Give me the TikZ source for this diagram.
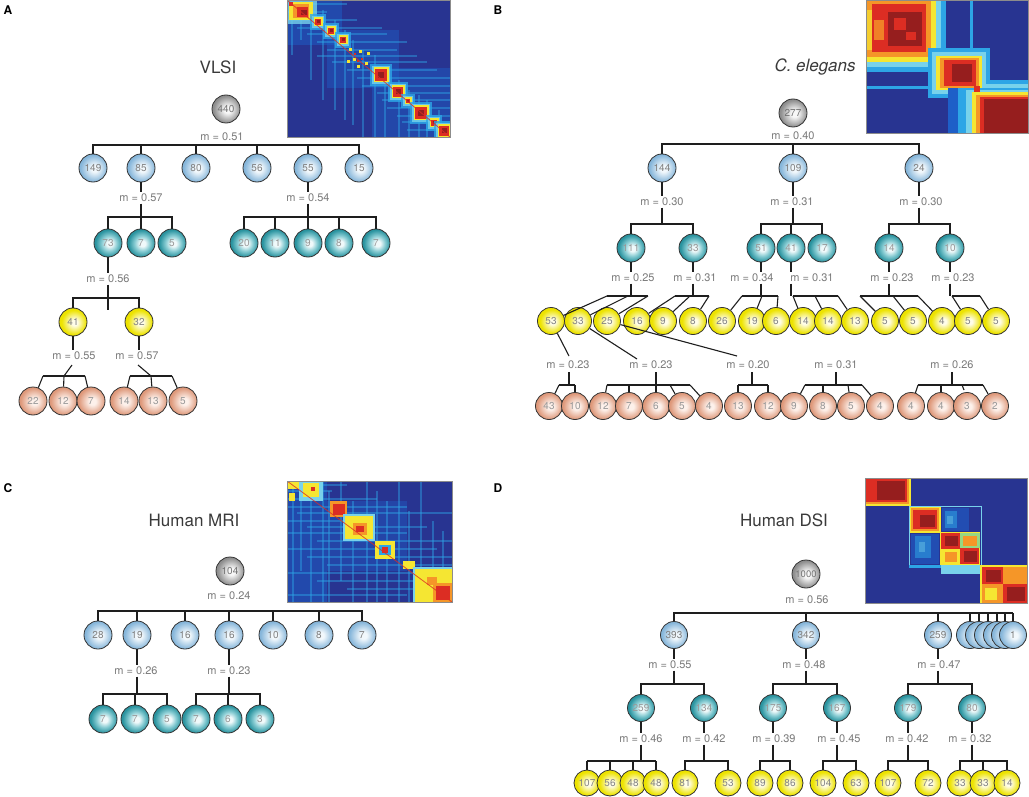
\documentclass[tikz,border=0pt]{standalone}
\usepackage{fontspec}
\setmainfont{TeX Gyre Heros}
\definecolor{edgec}{HTML}{333333}
\definecolor{lnc}{HTML}{1E1E1E}
\definecolor{mlc}{HTML}{7A7A7A}
\definecolor{ttlc}{HTML}{3A3A3A}
\definecolor{grO}{HTML}{8E8E8E}\definecolor{grI}{HTML}{F8F8F8}
\definecolor{lbO}{HTML}{86B6DA}\definecolor{lbI}{HTML}{F2F8FC}
\definecolor{tlO}{HTML}{2A939F}\definecolor{tlM}{HTML}{86CBD2}\definecolor{tlI}{HTML}{F0F9FA}
\definecolor{ylO}{HTML}{EDE300}\definecolor{ylI}{HTML}{FFFDEA}
\definecolor{smO}{HTML}{DE987A}\definecolor{smI}{HTML}{FDF1EB}
\definecolor{jN}{RGB}{40,52,145}
\definecolor{jB}{RGB}{30,95,200}
\definecolor{jC}{RGB}{45,165,230}
\definecolor{jL}{RGB}{120,210,235}
\definecolor{jY}{RGB}{245,230,50}
\definecolor{jO}{RGB}{245,150,40}
\definecolor{jR}{RGB}{220,45,35}
\definecolor{jD}{RGB}{150,30,30}
\definecolor{jG}{RGB}{150,215,130}
\pgfdeclareradialshading{shGr}{\pgfpoint{3bp}{-1bp}}{color(0bp)=(grI); color(6bp)=(grI); color(24bp)=(grO); color(50bp)=(grO)}
\pgfdeclareradialshading{shLb}{\pgfpoint{3bp}{-1bp}}{color(0bp)=(lbI); color(6bp)=(lbI); color(24bp)=(lbO); color(50bp)=(lbO)}
\pgfdeclareradialshading{shTl}{\pgfpoint{3bp}{-1bp}}{color(0bp)=(tlI); color(5bp)=(tlI); color(14bp)=(tlM); color(24bp)=(tlO); color(50bp)=(tlO)}
\pgfdeclareradialshading{shYl}{\pgfpoint{3bp}{-1bp}}{color(0bp)=(ylI); color(5bp)=(ylI); color(22bp)=(ylO); color(50bp)=(ylO)}
\pgfdeclareradialshading{shSm}{\pgfpoint{3bp}{-1bp}}{color(0bp)=(smI); color(6bp)=(smI); color(24bp)=(smO); color(50bp)=(smO)}
\tikzset{
  cnode/.style={circle, draw=edgec, line width=0.8pt, minimum size=28pt, inner sep=0pt,
    font=\fontsize{10}{10}\selectfont},
  gr/.style={cnode, shading=shGr, text=black!55},
  lb/.style={cnode, shading=shLb, text=black!50},
  tl/.style={cnode, shading=shTl, text=black!40},
  yl/.style={cnode, shading=shYl, text=black!48},
  sm/.style={cnode, shading=shSm, text=black!40},
  sz27/.style={minimum size=27pt},
  sz26/.style={minimum size=26pt},
  ml/.style={font=\fontsize{11}{11}\selectfont, text=mlc, inner sep=1.5pt},
  ttl/.style={font=\fontsize{17}{17}\selectfont, text=ttlc},
  plab/.style={font=\bfseries\fontsize{12}{12}\selectfont, text=black},
  ln/.style={draw=lnc, line width=1.1pt},
  hmb/.style={draw=black!45, line width=0.6pt}
}
\newcommand\tbarr[3]{\draw[ln] (#2.north) -- (#2.north |- #1) -- (#3.north |- #1) -- (#3.north);}
\newcommand\tdropp[2]{\draw[ln] (#2.north |- #1) -- (#2.north);}
\newcommand\jb[3]{%
  \fill[jC,opacity=.8] ({#1-#3-5},{#2-#3-5}) rectangle ({#1+#3+5},{#2+#3+5});
  \fill[jL,opacity=.8] ({#1-#3-3},{#2-#3-3}) rectangle ({#1+#3+3},{#2+#3+3});
  \fill[jY] ({#1-#3-1.5},{#2-#3-1.5}) rectangle ({#1+#3+1.5},{#2+#3+1.5});
  \fill[jR] ({#1-#3},{#2-#3}) rectangle ({#1+#3},{#2+#3});
  \fill[jD] ({#1-#3/2},{#2-#3/2}) rectangle ({#1+#3/2},{#2+#3/2});}
\newcommand\hs[3]{\fill[jC,opacity=.45] (#2,{#1-1}) rectangle (#3,{#1+1});}
\newcommand\vs[3]{\fill[jC,opacity=.45] ({#1-1},#2) rectangle ({#1+1},#3);}
\begin{document}
\begin{tikzpicture}[x=1pt,y=-1pt]
\useasboundingbox (0,0) rectangle (1029,797);

% ================= heatmap A =================
\begin{scope}[shift={(287,0)}]
\begin{scope}
\clip (0,0) rectangle (163,137);
\fill[jN] (0,0) rectangle (163,137);
\fill[jB,opacity=.5] (0,0) rectangle (55,45);
\fill[jB,opacity=.45] (40,30) rectangle (112,88);
\fill[jB,opacity=.45] (85,68) rectangle (163,137);
\foreach \p/\a/\b in {4/0/60,12/0/40,20/0/70,28/10/95,34/20/100,42/30/120,50/40/110,56/30/130,62/45/140,70/60/150,78/70/163,86/75/163,93/90/163,100/95/163,108/100/163,116/110/163,122/115/163,130/120/163}{\hs{\p}{\a}{\b}}
\foreach \p/\a/\b in {5/0/55,14/0/40,24/0/80,36/10/100,48/20/110,58/30/120,66/40/125,76/50/137,88/55/137,98/70/137,112/80/137,122/90/137,132/95/137,140/100/137,152/110/137}{\vs{\p}{\a}{\b}}
\fill[jL,opacity=.8] (0,0) rectangle (30,24);
\fill[jY] (2,2) rectangle (26,20);
\fill[jO] (6,4) rectangle (22,18);
\fill[jR] (10,7) rectangle (21,17);
\fill[jD] (14,10) rectangle (20,15);
\fill[jR] (2,2) rectangle (6,6);
\jb{31}{22}{3}
\jb{44}{31}{3}
\jb{56}{40}{3}
\foreach \x/\y in {62/48,72/50,66/58,78/62,70/65,60/60,80/52}{\fill[jY] (\x,\y) rectangle ++(3,3);}
\foreach \x/\y in {67/53,74/58,70/60}{\fill[jR] (\x,\y) rectangle ++(2,2);}
\jb{94}{75}{6}
\jb{111}{92}{5}
\jb{121}{101}{2}
\jb{134}{113}{6}
\jb{147}{123}{3}
\jb{157}{131}{5}
\draw[jR,opacity=.8,line width=0.8pt] (0,0) -- (163,137);
\end{scope}
\draw[hmb] (0,0) rectangle (163,137);
\end{scope}

% ================= heatmap B =================
\begin{scope}[shift={(866,0)}]
\begin{scope}
\clip (0,0) rectangle (162,133);
\fill[jN] (0,0) rectangle (162,133);
\fill[jC] (0,0) rectangle (80,72);
\fill[jL] (0,0) rectangle (75,67);
\fill[jY] (0,0) rectangle (70,62);
\fill[jO] (0,0) rectangle (65,57);
\fill[jR] (6,4) rectangle (60,52);
\fill[jD] (22,12) rectangle (56,46);
\fill[jR] (28,18) rectangle (40,30);
\fill[jR] (40,32) rectangle (50,40);
\fill[jY,opacity=.7] (0,10) rectangle (6,50);
\fill[jO,opacity=.8] (8,20) rectangle (18,40);
\fill[jC] (104,0) rectangle (107,133);
\fill[jC] (0,86) rectangle (84,89);
\fill[jC,opacity=.7] (76,0) rectangle (79,64);
\fill[jC] (62,48) rectangle (124,98);
\fill[jL] (66,52) rectangle (120,94);
\fill[jY] (70,56) rectangle (116,90);
\fill[jO] (74,58) rectangle (113,88);
\fill[jR] (78,60) rectangle (110,86);
\fill[jD] (86,64) rectangle (106,82);
\fill[jB] (82,88) rectangle (162,133);
\fill[jC] (92,88) rectangle (162,133);
\fill[jL] (100,90) rectangle (162,133);
\fill[jY] (106,92) rectangle (162,133);
\fill[jO] (110,95) rectangle (162,133);
\fill[jR] (114,97) rectangle (162,133);
\fill[jD] (118,99) rectangle (162,133);
\fill[jL] (120,84) rectangle (162,88);
\fill[jC] (122,80) rectangle (162,84);
\fill[jR] (108,86) rectangle (114,92);
\end{scope}
\draw[hmb] (0,0) rectangle (162,133);
\end{scope}

% ================= heatmap C =================
\begin{scope}[shift={(287,481)}]
\begin{scope}
\clip (0,0) rectangle (165,121);
\fill[jN] (0,0) rectangle (165,121);
\fill[jB,opacity=.5] (0,0) rectangle (40,121);
\fill[jB,opacity=.4] (40,20) rectangle (120,90);
\foreach \p/\a/\b in {4/0/60,10/0/45,18/0/90,26/0/120,32/10/165,40/0/80,46/20/140,52/0/120,60/30/165,68/0/150,76/20/165,84/40/165,92/0/165,100/30/165,108/60/165,114/0/120}{\hs{\p}{\a}{\b}}
\foreach \p/\a/\b in {6/0/121,14/0/90,24/0/121,36/0/121,42/10/121,54/0/100,66/20/121,80/0/121,90/10/121,100/20/121,112/0/121,122/30/121,134/0/121,146/40/121,156/50/121}{\vs{\p}{\a}{\b}}
\fill[jY] (0,0) rectangle (12,8);
\fill[jL] (12,0) rectangle (36,20);
\fill[jY] (16,2) rectangle (32,16);
\fill[jR] (24,6) rectangle (28,10);
\fill[jY] (2,12) rectangle (8,20);
\fill[jO] (43,20) rectangle (60,36);
\fill[jR] (46,23) rectangle (58,34);
\fill[jL] (56,33) rectangle (88,60);
\fill[jY] (58,35) rectangle (86,58);
\fill[jO] (66,42) rectangle (80,54);
\fill[jR] (69,45) rectangle (77,51);
\fill[jY] (88,60) rectangle (108,78);
\fill[jC] (92,64) rectangle (104,74);
\fill[jR] (95,66) rectangle (101,72);
\fill[jY] (116,80) rectangle (128,88);
\fill[jL] (126,86) rectangle (165,121);
\fill[jY] (128,88) rectangle (165,121);
\fill[jO] (140,96) rectangle (150,104);
\fill[jO] (146,102) rectangle (165,121);
\fill[jR] (149,105) rectangle (163,119);
\draw[jR,opacity=.8,line width=0.8pt] (0,0) -- (165,121);
\end{scope}
\draw[hmb] (0,0) rectangle (165,121);
\end{scope}

% ================= heatmap D =================
\begin{scope}[shift={(865,478)}]
\begin{scope}
\clip (0,0) rectangle (162,125);
\fill[jN] (0,0) rectangle (162,125);
\fill[jY] (0,0) rectangle (46,28);
\fill[jO] (0,0) rectangle (44,26);
\fill[jR] (0,0) rectangle (42,24);
\fill[jD] (12,3) rectangle (40,22);
\fill[jB,opacity=.6] (77,30) rectangle (104,53);
\fill[jC,opacity=.55] (80,33) rectangle (92,50);
\fill[jL,opacity=.4] (82,38) rectangle (88,46);
\fill[jB,opacity=.6] (46,56) rectangle (74,86);
\fill[jC,opacity=.55] (50,58) rectangle (66,80);
\fill[jL,opacity=.4] (54,64) rectangle (60,74);
\draw[jL,line width=1pt] (44,28) rectangle (116,87);
\fill[jY] (45,29) rectangle (76,55);
\fill[jO] (46,30) rectangle (74,53);
\fill[jR] (48,32) rectangle (72,51);
\fill[jD] (55,37) rectangle (70,49);
\fill[jY] (75,54) rectangle (115,87);
\fill[jR] (76,55) rectangle (95,71);
\fill[jD] (80,58) rectangle (93,68);
\fill[jG] (95,55) rectangle (115,70);
\fill[jO] (98,58) rectangle (112,68);
\fill[jY] (76,71) rectangle (95,86);
\fill[jO] (80,74) rectangle (92,84);
\fill[jR] (95,70) rectangle (114,86);
\fill[jD] (99,73) rectangle (112,84);
\fill[jL] (76,87) rectangle (115,96);
\fill[jC] (44,87) rectangle (76,90);
\fill[jY] (115,87) rectangle (162,125);
\fill[jR] (117,89) rectangle (138,106);
\fill[jD] (121,92) rectangle (136,104);
\fill[jO] (138,89) rectangle (162,106);
\fill[jO] (117,106) rectangle (138,125);
\fill[jY] (120,110) rectangle (132,122);
\fill[jR] (138,106) rectangle (162,125);
\fill[jD] (142,109) rectangle (160,123);
\end{scope}
\draw[hmb] (0,0) rectangle (162,125);
\end{scope}

% ================= Panel A =================
\node[plab] (pA) at (8,10) {A};
\node[ttl] (tA) at (218,67) {VLSI};
\node[gr] (a440) at (226,109) {440};
\node[ml] (aL0) at (222,137) {m = 0.51};
\coordinate (aB0) at (0,145);
\node[lb] (a149) at (93,168) {149};
\node[lb] (a85) at (141,168) {85};
\node[lb] (a80) at (196,168) {80};
\node[lb] (a56) at (257,168) {56};
\node[lb] (a55) at (308,168) {55};
\node[lb] (a15) at (359,168) {15};
\tbarr{aB0}{a149}{a15}
\foreach \n in {a85,a80,a56,a55}{\tdropp{aB0}{\n}}

\node[ml] (aL1) at (141,198) {m = 0.57};
\draw[ln] (a85.south) -- (a85.south |- aL1.north);
\coordinate (aB1) at (0,217);
\draw[ln] (aL1.south -| a85) -- (a85 |- aB1);
\node[tl] (a73) at (108,243) {73};
\node[tl] (a7) at (141,243) {7};
\node[tl] (a5) at (172,243) {5};
\tbarr{aB1}{a73}{a5}
\tdropp{aB1}{a7}

\node[ml] (aL2) at (308,198) {m = 0.54};
\draw[ln] (a55.south) -- (a55.south |- aL2.north);
\draw[ln] (aL2.south -| a55) -- (a55 |- aB1);
\node[tl] (a20) at (244,243) {20};
\node[tl] (a11) at (275,243) {11};
\node[tl] (a9) at (308,243) {9};
\node[tl] (a8) at (339,243) {8};
\node[tl] (a7b) at (376,243) {7};
\tbarr{aB1}{a20}{a7b}
\foreach \n in {a11,a9,a8}{\tdropp{aB1}{\n}}

\node[ml] (aL3) at (108,279) {m = 0.56};
\draw[ln] (a73.south) -- (a73.south |- aL3.north);
\coordinate (aB3) at (0,298);
\coordinate (aT3) at (108,310);
\draw[ln] (aL3.south -| aT3) -- (aT3);
\node[yl] (a41) at (73,322) {41};
\node[yl] (a32) at (139,322) {32};
\tbarr{aB3}{a41}{a32}

\node[ml] (aL4) at (74,356) {m = 0.55};
\node[ml] (aL5) at (137,356) {m = 0.57};
\draw[ln] (a41.south) -- (a41.south |- aL4.north);
\draw[ln] (a32.south) -- (a32.south |- aL5.north);
\node[sm] (a22) at (33,401) {22};
\node[sm] (a12) at (63,401) {12};
\node[sm] (a7c) at (91,401) {7};
\node[sm] (a14) at (124,401) {14};
\node[sm] (a13) at (153,401) {13};
\node[sm] (a5c) at (183,401) {5};
\coordinate (aJ4) at (64,376); \coordinate (aJ4l) at (43,376); \coordinate (aJ4r) at (85,376);
\coordinate (aS4) at (72,365);
\draw[ln] (aS4) -- (aJ4);
\draw[ln] (aJ4l) -- (aJ4r);
\draw[ln] (aJ4l) -- (a22); \draw[ln] (aJ4) -- (a12); \draw[ln] (aJ4r) -- (a7c);
\coordinate (aJ5) at (151,376); \coordinate (aJ5l) at (130,376); \coordinate (aJ5r) at (172,376);
\coordinate (aS5) at (138,365);
\draw[ln] (aS5) -- (aJ5);
\draw[ln] (aJ5l) -- (aJ5r);
\draw[ln] (aJ5l) -- (a14); \draw[ln] (aJ5) -- (a13); \draw[ln] (aJ5r) -- (a5c);

% ================= Panel B =================
\node[plab] (pB) at (498,10) {B};
\node[ttl] (tB) at (815,67) {\itshape C. elegans};
\node[gr] (b277) at (793,113) {277};
\node[ml] (bL0) at (793,136) {m = 0.40};
\coordinate (bB0) at (0,144);
\node[lb] (b144) at (662,168) {144};
\node[lb] (b109) at (793,168) {109};
\node[lb] (b24) at (919,168) {24};
\tbarr{bB0}{b144}{b24}
\tdropp{bB0}{b109}
\node[ml] (bL1) at (662,202) {m = 0.30};
\node[ml] (bL2) at (792,202) {m = 0.31};
\node[ml] (bL3) at (921,202) {m = 0.30};
\coordinate (bB1) at (0,224);
\foreach \n/\l in {b144/bL1,b109/bL2,b24/bL3}{
  \draw[ln] (\n.south) -- (\n.south |- \l.north);
  \draw[ln] (\l.south -| \n) -- (\n |- bB1);}
\node[tl] (b111) at (631,248) {111};
\node[tl] (b33) at (693,248) {33};
\node[tl] (b51) at (761,248) {51};
\node[tl] (b41) at (791,248) {41};
\node[tl] (b17) at (822,248) {17};
\node[tl] (b14) at (889,248) {14};
\node[tl] (b10) at (950,248) {10};
\tbarr{bB1}{b111}{b33}
\tbarr{bB1}{b51}{b17}
\tdropp{bB1}{b41}
\tbarr{bB1}{b14}{b10}
\node[ml] (bL4) at (633,278) {m = 0.25};
\node[ml] (bL5) at (695,278) {m = 0.31};
\node[ml] (bL6) at (752,278) {m = 0.34};
\node[ml] (bL7) at (812,278) {m = 0.31};
\node[ml] (bL8) at (892,278) {m = 0.23};
\node[ml] (bL9) at (953,278) {m = 0.23};
\coordinate (bB2) at (0,296);
\foreach \n/\l in {b111/bL4,b33/bL5,b51/bL6,b41/bL7,b14/bL8,b10/bL9}{
  \draw[ln] (\n.south) -- (\n.south |- \l.north);
  \draw[ln] (\l.south -| \n) -- (\n |- bB2);}
\foreach \i/\x/\v in {1/551/53,2/578/33,3/607/25,4/637/16,5/663/9,6/693/8,7/722/26,8/752/19,9/776/6,10/803/14,11/828/14,12/855/13,13/885/5,14/913/5,15/942/4,16/968/5,17/996/5}{
  \node[yl,sz27] (by\i) at (\x,321) {\v};}
% top fans
\draw[ln] (607,296) -- (648,296);
\draw[ln] (607,296) -- (by1); \draw[ln] (628,296) -- (by2); \draw[ln] (648,296) -- (by3);
\draw[ln] (675,296) -- (709,296);
\draw[ln] (675,296) -- (by4); \draw[ln] (690,296) -- (by5); \draw[ln] (709,296) -- (by6);
\draw[ln] (742,296) -- (778,296);
\draw[ln] (742,296) -- (by7); \draw[ln] (762,296) -- (by8); \draw[ln] (778,296) -- (by9);
\draw[ln] (793,296) -- (838,296);
\draw[ln] (793,296) -- (by10); \draw[ln] (815,296) -- (by11); \draw[ln] (838,296) -- (by12);
\draw[ln] (860,296) -- (918,296);
\draw[ln] (860,296) -- (by13); \draw[ln] (893,296) -- (by14); \draw[ln] (918,296) -- (by15);
\draw[ln] (952,296) -- (980,296);
\draw[ln] (952,296) -- (by16); \draw[ln] (980,296) -- (by17);
% lower labels
\node[ml] (bL10) at (568,365) {m = 0.23};
\node[ml] (bL11) at (651,365) {m = 0.23};
\node[ml] (bL12) at (748,365) {m = 0.20};
\node[ml] (bL13) at (836,365) {m = 0.31};
\node[ml] (bL14) at (952,365) {m = 0.26};
\draw[ln] (by1) -- (569,356);
\draw[ln] (by2) -- (637,359);
\draw[ln] (by3) -- (737,356);
\foreach \i/\x/\v in {1/549/43,2/575/10,3/603/12,4/629/7,5/656/6,6/682/5,7/709/4,8/738/13,9/768/12,10/794/9,11/823/8,12/851/5,13/880/4,14/911/4,15/941/4,16/967/3,17/995/2}{
  \node[sm,sz27] (bs\i) at (\x,406) {\v};}
\draw[ln] (569,372) -- (569,385);
\draw[ln] (559,385) -- (575,385);
\draw[ln] (559,385) -- (bs1); \draw[ln] (575,385) -- (bs2);
\draw[ln] (656,372) -- (bs5);
\draw[ln] (607,385) -- (690,385);
\draw[ln] (607,385) -- (bs3); \draw[ln] (629,385) -- (bs4); \draw[ln] (670,385) -- (bs6); \draw[ln] (690,385) -- (bs7);
\draw[ln] (752,372) -- (752,385);
\draw[ln] (738,385) -- (768,385);
\draw[ln] (738,385) -- (bs8); \draw[ln] (768,385) -- (bs9);
\draw[ln] (836,372) -- (836,385);
\draw[ln] (805,385) -- (862,385);
\draw[ln] (805,385) -- (bs10); \draw[ln] (823,385) -- (bs11); \draw[ln] (848,385) -- (bs12); \draw[ln] (862,385) -- (bs13);
\draw[ln] (952,372) -- (952,385);
\draw[ln] (918,385) -- (983,385);
\draw[ln] (918,385) -- (bs14); \draw[ln] (941,385) -- (bs15); \draw[ln] (962,385) -- (964,390); \draw[ln] (983,385) -- (bs17);

% ================= Panel C =================
\node[plab] (pC) at (8,488) {C};
\node[ttl] (tC) at (194,520) {Human MRI};
\node[gr] (c104) at (230,571) {104};
\node[ml] (cL0) at (229,596) {m = 0.24};
\coordinate (cB0) at (0,611);
\node[lb] (c28) at (98,635) {28};
\node[lb] (c19) at (137,635) {19};
\node[lb] (c16a) at (185,635) {16};
\node[lb] (c16b) at (229,635) {16};
\node[lb] (c10) at (273,635) {10};
\node[lb] (c8) at (319,635) {8};
\node[lb] (c7) at (362,635) {7};
\tbarr{cB0}{c28}{c7}
\foreach \n in {c19,c16a,c16b,c10,c8}{\tdropp{cB0}{\n}}
\node[ml] (cL1) at (136,671) {m = 0.26};
\node[ml] (cL2) at (229,671) {m = 0.23};
\coordinate (cB1) at (0,694);
\foreach \n/\l in {c19/cL1,c16b/cL2}{
  \draw[ln] (\n.south) -- (\n.south |- \l.north);
  \draw[ln] (\l.south -| \n) -- (\n |- cB1);}
\node[tl] (c7a) at (103,719) {7};
\node[tl] (c7b) at (135,719) {7};
\node[tl] (c5) at (167,719) {5};
\node[tl] (c7c) at (196,719) {7};
\node[tl] (c6) at (228,719) {6};
\node[tl] (c3) at (260,719) {3};
\tbarr{cB1}{c7a}{c5}
\tdropp{cB1}{c7b}
\tbarr{cB1}{c7c}{c3}
\tdropp{cB1}{c6}

% ================= Panel D =================
\node[plab] (pD) at (498,488) {D};
\node[ttl] (tD) at (784,520) {Human DSI};
\node[gr] (d1000) at (806,574) {\fontsize{9.5}{9.5}\selectfont 1000};
\node[ml] (dL0) at (807,600) {m = 0.56};
\coordinate (dB0) at (0,613);
\node[lb,sz27] (d393) at (674,635) {393};
\node[lb,sz27] (d342) at (806,635) {342};
\node[lb,sz27] (d259) at (938,635) {259};
\foreach \i/\x in {1/970,2/979,3/988,4/997,5/1005}{
  \draw[ln] (\x,613) -- (\x,622);
  \node[lb,sz27] (dk\i) at (\x,635) {};}
\draw[ln] (1013,613) -- (1013,622);
\node[lb,sz27] (dk6) at (1013,635) {1};
\draw[ln] (d393.north) -- (d393.north |- dB0) -- (1013,613);
\tdropp{dB0}{d342}
\tdropp{dB0}{d259}
\node[ml] (dL1) at (670,665) {m = 0.55};
\node[ml] (dL2) at (804,665) {m = 0.48};
\node[ml] (dL3) at (939,665) {m = 0.47};
\coordinate (dB1) at (0,684);
\foreach \n/\l in {d393/dL1,d342/dL2,d259/dL3}{
  \draw[ln] (\n.south) -- (\n.south |- \l.north);
  \draw[ln] (\l.south -| \n) -- (\n |- dB1);}
\node[tl,sz27] (d259b) at (641,708) {259};
\node[tl,sz27] (d134) at (704,708) {134};
\node[tl,sz27] (d175) at (773,708) {175};
\node[tl,sz27] (d167) at (837,708) {167};
\node[tl,sz27] (d179) at (908,708) {179};
\node[tl,sz27] (d80) at (972,708) {80};
\tbarr{dB1}{d259b}{d134}
\tbarr{dB1}{d175}{d167}
\tbarr{dB1}{d179}{d80}
\node[ml] (dL4) at (641,739) {m = 0.46};
\node[ml] (dL5) at (704,739) {m = 0.42};
\node[ml] (dL6) at (774,739) {m = 0.39};
\node[ml] (dL7) at (839,739) {m = 0.45};
\node[ml] (dL8) at (907,739) {m = 0.42};
\node[ml] (dL9) at (970,739) {m = 0.32};
\coordinate (dB2) at (0,761);
\foreach \n/\l in {d259b/dL4,d134/dL5,d175/dL6,d167/dL7,d179/dL8,d80/dL9}{
  \draw[ln] (\n.south) -- (\n.south |- \l.north);
  \draw[ln] (\l.south -| \n) -- (\n |- dB2);}
\coordinate (dy1) at (587,783);
\coordinate (dy2) at (610,783);
\coordinate (dy3) at (633,783);
\coordinate (dy4) at (656,783);
\coordinate (dy14) at (983,783);
\draw[ln] (dy1 |- dB2) -- (dy4 |- dB2);
\foreach \c in {dy1,dy2,dy3,dy4}{\draw[ln] (\c |- dB2) -- ++(0,10);}
\node[yl,sz26] (d107a) at (dy1) {107};
\node[yl,sz26] (d56) at (dy2) {56};
\node[yl,sz26] (d48a) at (dy3) {48};
\node[yl,sz26] (d48b) at (dy4) {48};
\node[yl,sz26] (d81) at (685,783) {81};
\node[yl,sz26] (d53) at (728,783) {53};
\node[yl,sz26] (d89) at (760,783) {89};
\node[yl,sz26] (d86) at (790,783) {86};
\node[yl,sz26] (d104) at (823,783) {104};
\node[yl,sz26] (d63) at (856,783) {63};
\node[yl,sz26] (d107b) at (888,783) {107};
\node[yl,sz26] (d72) at (928,783) {72};
\tbarr{dB2}{d81}{d53}
\tbarr{dB2}{d89}{d86}
\tbarr{dB2}{d104}{d63}
\tbarr{dB2}{d107b}{d72}
\draw[ln] (960,770) -- (960,761) -- (1007,761) -- (1007,770);
\draw[ln] (dy14 |- dB2) -- ++(0,10);
\node[yl,sz26] (d33a) at (960,783) {33};
\node[yl,sz26] (d33b) at (dy14) {33};
\node[yl,sz26] (d14) at (1007,783) {14};
\end{tikzpicture}
\end{document}
